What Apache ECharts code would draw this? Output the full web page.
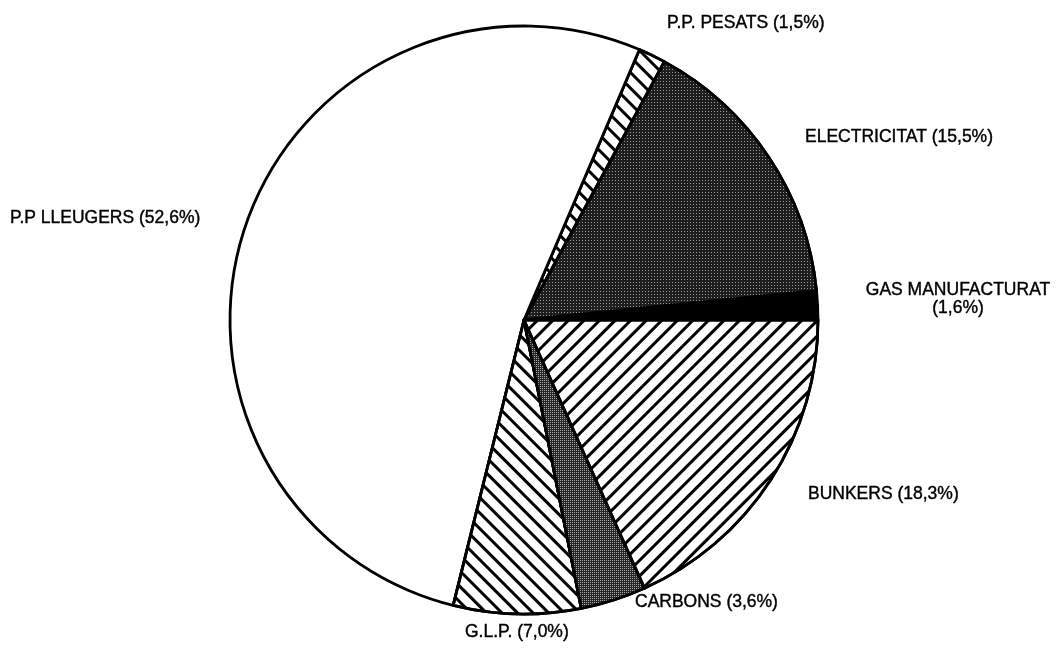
<!DOCTYPE html>
<html>
<head>
<meta charset="utf-8">
<title>Pie</title>
<script src="https://cdn.jsdelivr.net/npm/echarts@6/dist/echarts.min.js"></script>
<style>
    html, body { margin: 0; padding: 0; background: #fff; }
    #container { width: 1056px; height: 657px; }
</style>
</head>
<body>
<div id="container"></div>
<script>
// dades del grafic (sentit antihorari des de les 3 en punt)
var names = ['GAS MANUFACTURAT', 'ELECTRICITAT', 'P.P. PESATS', 'P.P LLEUGERS', 'G.L.P.', 'CARBONS', 'BUNKERS'];
var values = [1.6, 15.5, 1.5, 52.6, 7.0, 3.6, 18.3];
var labels = ['GAS MANUFACTURAT\n(1,6%)', 'ELECTRICITAT (15,5%)', 'P.P. PESATS (1,5%)', 'P.P LLEUGERS (52,6%)',
    'G.L.P. (7,0%)', 'CARBONS (3,6%)', 'BUNKERS (18,3%)'];

// on va cada etiqueta
var labelPos = [
    {x: 958, y: 299, align: 'center'},
    {x: 805, y: 137, align: 'left'},
    {x: 667, y: 23, align: 'left'},
    {x: 10, y: 218, align: 'left'},
    {x: 465, y: 632, align: 'left'},
    {x: 635, y: 602, align: 'left'},
    {x: 808, y: 494, align: 'left'}
];

var ChartModule = (function (echarts) {
    var chart;

    function hatch(rot) {
        return {
            symbol: 'rect',
            symbolSize: 1,
            color: '#000',
            dashArrayX: [1, 0],
            dashArrayY: [3, 8],
            rotation: rot
        };
    }

    function stipple(dot, gap) {
        return {
            symbol: 'rect',
            symbolSize: 1,
            color: dot,
            dashArrayX: [1, gap],
            dashArrayY: [1, gap]
        };
    }

    // fons + trama per a cada sector
    var styles = [
        {color: '#000'},
        {color: '#1e1e1e', decal: stipple('#9a9a9a', 2)},
        {color: '#fff', decal: hatch(Math.PI / 4)},
        {color: '#fff'},
        {color: '#fff', decal: hatch(Math.PI / 4)},
        {color: '#262626', decal: stipple('#a8a8a8', 1)},
        {color: '#fff', decal: hatch(-Math.PI / 4)}
    ];

    return {
        init: function () {
            chart = echarts.init(document.getElementById('container'), null, {renderer: 'canvas'});
            var data = values.map(function (v, i) {
                return {
                    name: names[i],
                    value: v,
                    itemStyle: styles[i],
                    label: {formatter: labels[i]}
                };
            });
            chart.setOption({
                animation: false,
                series: [{
                    type: 'pie',
                    silent: true,
                    clockwise: false,
                    startAngle: 0,
                    center: [524, 320],
                    radius: 294,
                    avoidLabelOverlap: false,
                    itemStyle: {
                        borderColor: '#000',
                        borderWidth: 2.8
                    },
                    label: {
                        show: true,
                        position: 'outside',
                        color: '#000',
                        fontFamily: 'Liberation Sans, Arial, sans-serif',
                        fontSize: 17.5,
                        lineHeight: 18,
                        textBorderColor: '#000',
                        textBorderWidth: 0.4
                    },
                    labelLine: {show: false},
                    labelLayout: function (params) {
                        var p = labelPos[params.dataIndex];
                        return {x: p.x, y: p.y, align: p.align, verticalAlign: 'middle'};
                    },
                    data: data
                }]
            });
        }
    };
})(echarts);

ChartModule.init();
</script>
</body>
</html>
